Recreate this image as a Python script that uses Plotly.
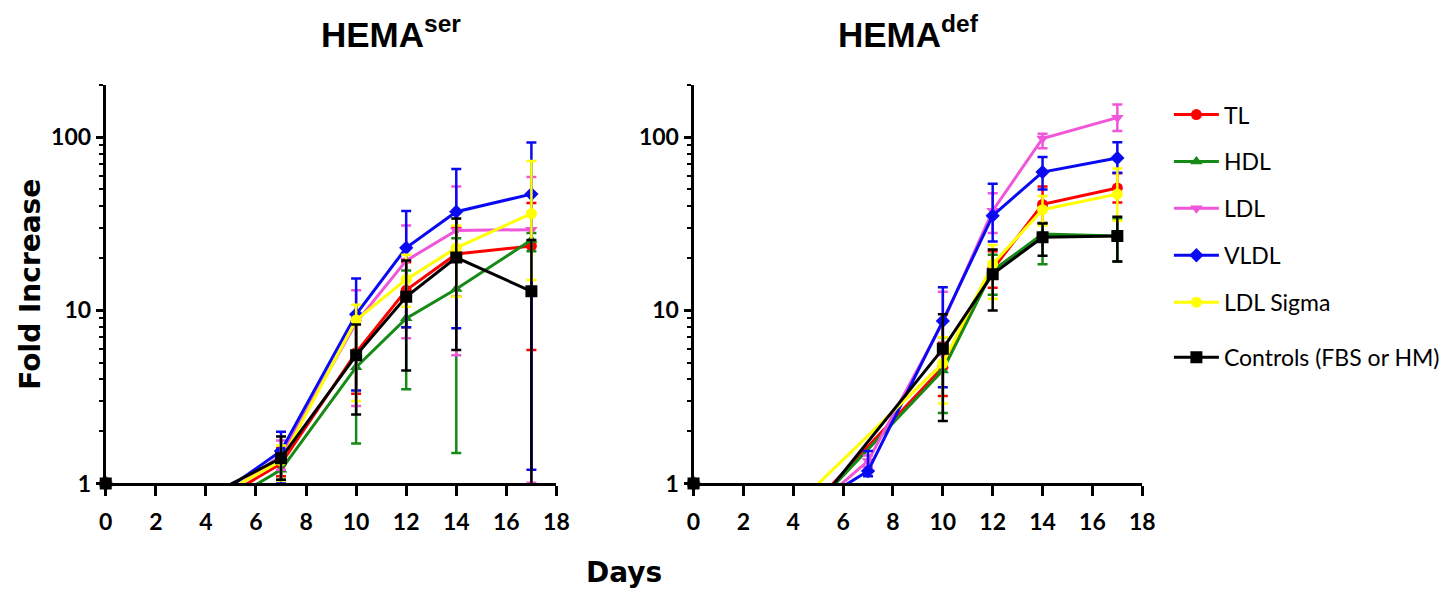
import numpy as np
import plotly.graph_objects as go

# days of culture
days = [0, 7, 10, 12, 14, 17]
x_ticks = list(range(0, 19, 2))
y_ticks = [1, 10, 100]

names = ["TL", "HDL", "LDL", "VLDL", "LDL Sigma", "Controls (FBS or HM)"]
colors = ["#FF0000", "#168A16", "#F056DA", "#0A0AF2", "#FFFF00", "#000000"]
symbols = ["circle", "triangle-up", "triangle-down", "diamond", "circle", "square"]

# HEMA ser : mean, upper end of bar, lower end of bar
ser_tl_mean = [0.33, 1.30, 5.7, 13.1, 21.2, 23.6]
ser_tl_hi = [0.33, 1.60, 9.0, 19.0, 30.0, 41.8]
ser_tl_lo = [0.33, 1.10, 3.3, 8.0, 12.0, 5.9]

ser_hdl_mean = [0.30, 1.20, 4.7, 9.0, 13.3, 25.5]
ser_hdl_hi = [0.30, 1.40, 9.0, 17.0, 26.1, 28.0]
ser_hdl_lo = [0.30, 1.05, 1.7, 3.5, 1.5, 22.0]

ser_ldl_mean = [0.285, 1.45, 8.5, 19.4, 29.0, 29.3]
ser_ldl_hi = [0.285, 1.77, 13.1, 31.0, 52.0, 59.0]
ser_ldl_lo = [0.285, 1.20, 2.8, 6.9, 5.5, 1.01]

ser_vldl_mean = [0.30, 1.54, 9.5, 23.0, 37.2, 47.0]
ser_vldl_hi = [0.30, 1.99, 15.3, 37.6, 65.6, 93.5]
ser_vldl_lo = [0.30, 1.00, 3.45, 8.0, 7.9, 1.2]

ser_sig_mean = [0.37, 1.35, 8.8, 15.1, 23.0, 36.3]
ser_sig_hi = [0.37, 1.66, 10.8, 21.0, 31.0, 73.0]
ser_sig_lo = [0.37, 1.04, 3.0, 10.5, 12.0, 15.0]

ser_ctl_mean = [0.42, 1.40, 5.5, 12.0, 20.2, 12.9]
ser_ctl_hi = [0.42, 1.87, 8.3, 19.4, 34.0, 25.5]
ser_ctl_lo = [0.42, 1.05, 2.5, 4.5, 5.9, 0.3]

# HEMA def (None = not measured on day 7)
def_tl_mean = [0.14, None, 4.7, 17.3, 41.0, 51.0]
def_tl_hi = [0.14, None, 6.5, 22.0, 52.0, 62.0]
def_tl_lo = [0.14, None, 3.2, 13.5, 32.0, 42.0]

def_hdl_mean = [0.136, None, 4.5, 17.0, 27.6, 26.9]
def_hdl_hi = [0.136, None, 7.0, 21.0, 32.0, 34.0]
def_hdl_lo = [0.136, None, 2.55, 12.3, 18.5, 19.2]

def_ldl_mean = [0.18, 1.35, 8.5, 37.7, 98.5, 130.0]
def_ldl_hi = [0.18, 1.45, 12.8, 47.5, 105.0, 155.0]
def_ldl_lo = [0.18, 1.25, 5.5, 28.0, 86.6, 109.0]

def_vldl_mean = [0.28, 1.18, 8.7, 35.3, 63.0, 76.0]
def_vldl_hi = [0.28, 1.54, 13.6, 54.0, 77.0, 93.6]
def_vldl_lo = [0.28, 1.10, 3.6, 25.0, 50.0, 62.5]

def_sig_mean = [0.20, None, 4.95, 18.5, 38.2, 47.0]
def_sig_hi = [0.20, None, 7.0, 23.9, 45.8, 66.0]
def_sig_lo = [0.20, None, 2.9, 11.7, 31.0, 33.0]

def_ctl_mean = [0.098, None, 6.0, 16.2, 26.5, 26.9]
def_ctl_hi = [0.098, None, 9.5, 22.5, 31.8, 34.8]
def_ctl_lo = [0.098, None, 2.3, 10.0, 20.7, 19.2]

panels = [
    [(ser_tl_mean, ser_tl_hi, ser_tl_lo), (ser_hdl_mean, ser_hdl_hi, ser_hdl_lo),
     (ser_ldl_mean, ser_ldl_hi, ser_ldl_lo), (ser_vldl_mean, ser_vldl_hi, ser_vldl_lo),
     (ser_sig_mean, ser_sig_hi, ser_sig_lo), (ser_ctl_mean, ser_ctl_hi, ser_ctl_lo)],
    [(def_tl_mean, def_tl_hi, def_tl_lo), (def_hdl_mean, def_hdl_hi, def_hdl_lo),
     (def_ldl_mean, def_ldl_hi, def_ldl_lo), (def_vldl_mean, def_vldl_hi, def_vldl_lo),
     (def_sig_mean, def_sig_hi, def_sig_lo), (def_ctl_mean, def_ctl_hi, def_ctl_lo)],
]

Y_MIN, Y_MAX = 1, 200
W, H = 1453, 600
LABEL_FONT = "Lato, Roboto, sans-serif"
BOLD = "DejaVu Sans, Verdana, sans-serif"
TITLE_FONT = "Liberation Sans, Arial, sans-serif"


def diff(a, b):
    return [None if p is None or q is None else p - q for p, q in zip(a, b)]


fig = go.Figure()

for p, series in enumerate(panels):
    xa = "x" if p == 0 else "x2"
    ya = "y" if p == 0 else "y2"
    for i, (mean, hi, lo) in enumerate(series):
        is_ctl = i == len(names) - 1
        fig.add_trace(go.Scatter(
            x=days, y=mean, mode="lines+markers", connectgaps=True,
            name=names[i], legendgroup=names[i], showlegend=(p == 0),
            legend="legend2" if is_ctl else "legend",
            line=dict(color=colors[i], width=3),
            marker=dict(symbol=symbols[i], size=12 if is_ctl else 11, color=colors[i]),
            error_y=dict(type="data", symmetric=False, array=diff(hi, mean),
                         arrayminus=diff(mean, lo), color=colors[i],
                         thickness=2.5, width=5),
            xaxis=xa, yaxis=ya,
        ))
    # day-0 points sit below the axis floor; show them pinned to it
    for i, (mean, hi, lo) in enumerate(series):
        fig.add_trace(go.Scatter(
            x=[days[0]], y=[max(mean[0], Y_MIN)], mode="markers", showlegend=False,
            marker=dict(symbol=symbols[i], size=12, color=colors[i]),
            cliponaxis=False, hoverinfo="skip", xaxis=xa, yaxis=ya,
        ))

minor_vals = [k * 10 ** e for e in range(0, 3) for k in range(2, 10) if k * 10 ** e <= Y_MAX]

xdom = [[92 / W, 549 / W], [688 / W, 1143 / W]]
ydom = [1 - 486 / H, 1 - 79 / H]
tick_font = dict(family=LABEL_FONT, size=23, color="black", weight="bold")

for p in range(2):
    sx = "" if p == 0 else "2"
    fig.update_layout(**{
        "xaxis" + sx: dict(
            domain=xdom[p], range=[0, 18], tickvals=x_ticks, ticks="outside",
            ticklen=10, tickwidth=3, tickcolor="black", showline=True, linewidth=3,
            linecolor="black", showgrid=False, zeroline=False, anchor="y" + sx,
            tickfont=tick_font, ticklabelstandoff=6,
        ),
        "yaxis" + sx: dict(
            domain=ydom, type="log", range=[np.log10(Y_MIN), np.log10(Y_MAX)],
            tickvals=y_ticks, ticks="outside", ticklen=7, tickwidth=3,
            tickcolor="black", showline=True, linewidth=3, linecolor="black",
            showgrid=False, zeroline=False, anchor="x" + sx,
            minor=dict(tickvals=minor_vals, ticks="outside", ticklen=4,
                       tickwidth=2, tickcolor="black"),
            tickfont=tick_font,
        ),
    })

legend_font = dict(family=LABEL_FONT, size=23, color="black")

fig.update_layout(
    width=W, height=H,
    margin=dict(l=0, r=0, t=0, b=0),
    plot_bgcolor="white", paper_bgcolor="white",
    legend=dict(x=1170 / W, y=1 - 87 / H, xanchor="left", yanchor="top",
                traceorder="grouped", tracegroupgap=14, itemwidth=45,
                font=legend_font, bgcolor="rgba(0,0,0,0)"),
    legend2=dict(x=1170 / W, y=1 - 335 / H, xanchor="left", yanchor="top",
                 itemwidth=45, font=legend_font, bgcolor="rgba(0,0,0,0)"),
    annotations=[
        dict(text="<b>HEMA<sup>ser</sup></b>", x=381 / W, y=1,
             xanchor="center", yanchor="top",
             xref="paper", yref="paper", showarrow=False,
             font=dict(family=TITLE_FONT, size=35, color="black")),
        dict(text="<b>HEMA<sup>def</sup></b>", x=906 / W, y=1,
             xanchor="center", yanchor="top",
             xref="paper", yref="paper", showarrow=False,
             font=dict(family=TITLE_FONT, size=35, color="black")),
        dict(text="<b>Fold Increase</b>", x=16 / W, y=1 - 282 / H, textangle=-90,
             xanchor="center", yanchor="middle",
             xref="paper", yref="paper", showarrow=False,
             font=dict(family=BOLD, size=28, color="black")),
        dict(text="<b>Days</b>", x=617 / W, y=1 - 577 / H,
             xanchor="center", yanchor="middle",
             xref="paper", yref="paper", showarrow=False,
             font=dict(family=BOLD, size=28, color="black")),
    ],
)

fig.write_html("out.html")
